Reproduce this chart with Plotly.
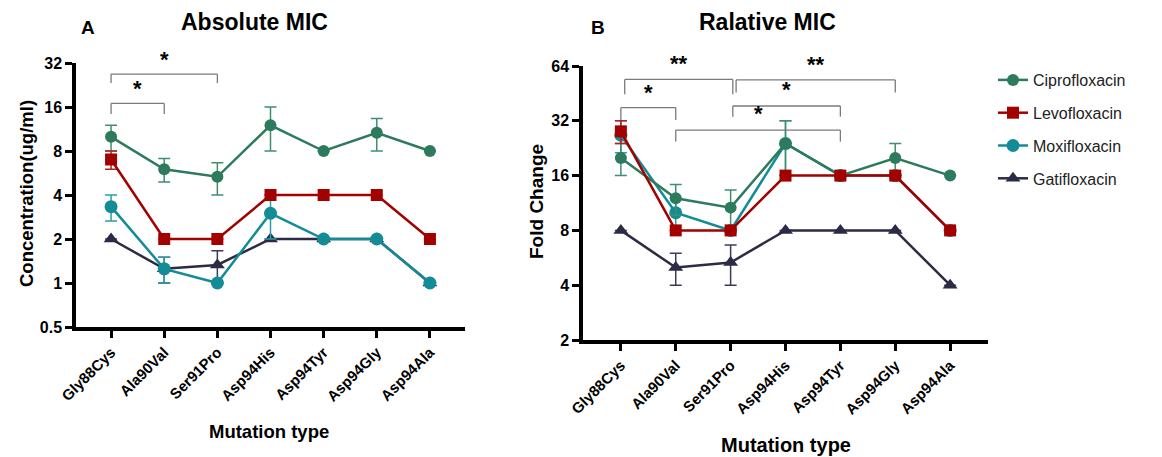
import math
import plotly.graph_objects as go

# ---------------- data ----------------
mutations = ["Gly88Cys", "Ala90Val", "Ser91Pro", "Asp94His", "Asp94Tyr", "Asp94Gly", "Asp94Ala"]
drugs = ["Ciprofloxacin", "Levofloxacin", "Moxifloxacin", "Gatifloxacin"]

# Panel A: absolute MIC (ug/ml), mean and SD
cipro_abs = [10, 6, 5.33, 12, 8, 10.67, 8]
cipro_abs_sd = [2, 1.1, 1.33, 4, 0, 2.67, 0]
levo_abs = [7, 2, 2, 4, 4, 4, 2]
levo_abs_sd = [1, 0, 0, 0, 0, 0, 0]
moxi_abs = [3.33, 1.25, 1, 3, 2, 2, 1]
moxi_abs_sd = [0.67, 0.25, 0, 1, 0, 0, 0]
gati_abs = [2, 1.25, 1.33, 2, 2, 2, 1]
gati_abs_sd = [0, 0.25, 0.33, 0, 0, 0, 0]

# Panel B: relative MIC (fold change), mean and SD
cipro_rel = [20, 12, 10.67, 24, 16, 20, 16]
cipro_rel_sd = [4, 2.3, 2.67, 8, 0, 4, 0]
levo_rel = [28, 8, 8, 16, 16, 16, 8]
levo_rel_sd = [4, 0, 0, 0, 0, 0, 0]
moxi_rel = [26.67, 10, 8, 24, 16, 16, 8]
moxi_rel_sd = [5.33, 2, 0, 8, 0, 0, 0]
gati_rel = [8, 5, 5.33, 8, 8, 8, 4]
gati_rel_sd = [0, 1, 1.33, 0, 0, 0, 0]

abs_ticks = [0.5, 1, 2, 4, 8, 16, 32]
rel_ticks = [2, 4, 8, 16, 32, 64]

# significance comparisons: (start index, end index, label)
sig_abs = [(0, 1, "*"), (0, 2, "*")]
sig_rel = [(0, 1, "*"), (0.07, 2.04, "**"), (2.1, 5, "**"), (2.04, 4, "*"), (1, 4, "*")]

# ---------------- styling ----------------
W, H = 1162, 457
OFF = 8  # page body margin
FONT = "Liberation Sans"
styles = {
    "Ciprofloxacin": dict(color="#2E7A5C", err="#3F8F6F", symbol="circle", size=12, rank=1),
    "Levofloxacin": dict(color="#A30000", err="#B52020", symbol="square", size=12, rank=2),
    "Moxifloxacin": dict(color="#138C97", err="#2A9FA8", symbol="circle", size=13, rank=3),
    "Gatifloxacin": dict(color="#2B2B45", err="#3B3B58", symbol="triangle-up", size=13, rank=4),
}
draw_order = ["Gatifloxacin", "Moxifloxacin", "Ciprofloxacin", "Levofloxacin"]

series_abs = {"Ciprofloxacin": (cipro_abs, cipro_abs_sd), "Levofloxacin": (levo_abs, levo_abs_sd),
              "Moxifloxacin": (moxi_abs, moxi_abs_sd), "Gatifloxacin": (gati_abs, gati_abs_sd)}
series_rel = {"Ciprofloxacin": (cipro_rel, cipro_rel_sd), "Levofloxacin": (levo_rel, levo_rel_sd),
              "Moxifloxacin": (moxi_rel, moxi_rel_sd), "Gatifloxacin": (gati_rel, gati_rel_sd)}


def px(v):
    return (v - OFF) / W


def py(v):
    return 1 - (v - OFF) / H


fig = go.Figure()

for panel, series, xa, ya, showleg in [("A", series_abs, "x", "y", True), ("B", series_rel, "x2", "y2", False)]:
    for name in draw_order:
        st = styles[name]
        vals, sd = series[name]
        err = [e if e else None for e in sd]
        fig.add_trace(go.Scatter(
            x=mutations, y=vals, name=name, xaxis=xa, yaxis=ya,
            mode="lines+markers", showlegend=showleg, legendrank=st["rank"],
            legendgroup=name,
            line=dict(color=st["color"], width=2.5),
            marker=dict(symbol=st["symbol"], size=st["size"], color=st["color"]),
            error_y=dict(type="data", array=err, symmetric=True, color=st["err"],
                         thickness=1.5, width=6),
            hoverinfo="skip",
        ))

axis_common = dict(showgrid=False, zeroline=False, showline=True, linecolor="black", linewidth=3.5,
                   ticks="outside", ticklen=7, tickwidth=3, tickcolor="black", automargin=False,
                   tickfont=dict(family=FONT, size=16, color="black", weight="bold"))
xtickfont = dict(family=FONT, size=15, color="black", weight="bold")

fig.update_layout(
    template="none",
    width=W, height=H, margin=dict(l=0, r=0, t=0, b=0, pad=0, autoexpand=False),
    paper_bgcolor="white", plot_bgcolor="white",
    font=dict(family=FONT, color="black"),
    xaxis=dict(domain=[px(76), px(465)], anchor="y", type="category", range=[-0.66, 6.66],
               tickangle=-45, **{**axis_common, "tickfont": xtickfont}),
    yaxis=dict(domain=[py(327), py(63)], anchor="x", type="log",
               range=[math.log10(0.5), math.log10(32)], tickvals=abs_ticks,
               ticktext=[str(t) for t in abs_ticks], **axis_common),
    xaxis2=dict(domain=[px(583), px(988)], anchor="y2", type="category", range=[-0.69, 6.69],
                tickangle=-45, **{**axis_common, "tickfont": xtickfont}),
    yaxis2=dict(domain=[py(340), py(66)], anchor="x2", type="log",
                range=[math.log10(2), math.log10(64)], tickvals=rel_ticks,
                ticktext=[str(t) for t in rel_ticks], **axis_common),
    legend=dict(x=px(993), y=py(63), xanchor="left", yanchor="top", tracegroupgap=9,
                font=dict(family=FONT, size=16, color="#222"), bgcolor="rgba(0,0,0,0)"),
    showlegend=True,
)

# significance brackets (x in category index, y in axis-domain fractions)
brackets_abs_y = [(0.847, 0.807, 0.905), (0.958, 0.924, 1.015)]
brackets_rel_y = [(0.848, 0.803, 0.903), (0.951, 0.897, 1.010), (0.949, 0.903, 1.006),
                  (0.854, 0.815, 0.915), (0.766, 0.724, 0.827)]

shapes = []
annotations = []
for sig, ys, xr, yr in [(sig_abs, brackets_abs_y, "x", "y domain"), (sig_rel, brackets_rel_y, "x2", "y2 domain")]:
    for (x0, x1, lab), (yt, yb, ystar) in zip(sig, ys):
        line = dict(color="#7a7a7a", width=1.3)
        shapes.append(dict(type="line", xref=xr, yref=yr, x0=x0, x1=x0, y0=yb, y1=yt, line=line))
        shapes.append(dict(type="line", xref=xr, yref=yr, x0=x0, x1=x1, y0=yt, y1=yt, line=line))
        shapes.append(dict(type="line", xref=xr, yref=yr, x0=x1, x1=x1, y0=yt, y1=yb, line=line))
        annotations.append(dict(xref=xr, yref=yr, x=(x0 + x1) / 2, y=ystar, text=lab, showarrow=False,
                                yanchor="middle", font=dict(family=FONT, size=22, color="black", weight="bold")))


def text_ann(x, y, text, size, angle=0, weight="bold", xanchor="center"):
    return dict(xref="paper", yref="paper", x=px(x), y=py(y), text=text, showarrow=False,
                xanchor=xanchor, yanchor="middle", textangle=angle,
                font=dict(family=FONT, size=size, color="black", weight=weight))


annotations += [
    text_ann(88, 27, "A", 19),
    text_ann(255, 22, "Absolute MIC", 23),
    text_ann(598, 27, "B", 19),
    text_ann(767, 22, "Ralative MIC", 23),
    text_ann(26, 194, "Concentration(ug/ml)", 18.5, angle=-90),
    text_ann(536, 202, "Fold Change", 19, angle=-90),
    text_ann(269, 431, "Mutation type", 18.5),
    text_ann(786, 445, "Mutation type", 20),
]

fig.update_layout(shapes=shapes, annotations=annotations)

fig.write_html("out.html", config={"displayModeBar": False})
